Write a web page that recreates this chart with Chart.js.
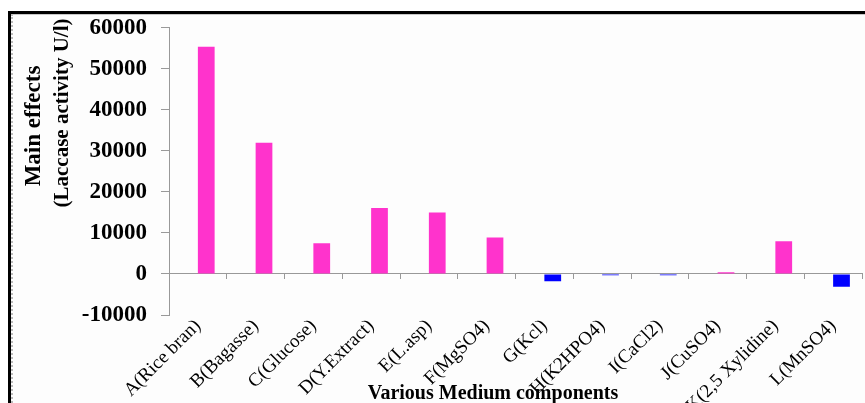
<!DOCTYPE html>
<html>
<head>
<meta charset="utf-8">
<script src="https://cdn.jsdelivr.net/npm/chart.js@4"></script>
<style>
  html, body { margin: 0; padding: 0; background: #fff; }
  #wrap { position: relative; width: 865px; height: 403px; overflow: hidden; }
  #frame {
    position: absolute; left: 8px; top: 11px; width: 870px; height: 400px;
    border-top: 3px solid #000; border-left: 3px solid #000;
    background: #fdfdfd;
  }
  #inner {
    position: absolute; left: 11px; top: 14px; width: 870px; height: 400px;
    border-top: 1px solid #c8c8c8; border-left: 2px dotted #bbb;
  }
  #chart { position: absolute; left: 0; top: 0; }
</style>
</head>
<body>
<div id="wrap">
  <div id="frame"></div>
  <div id="inner"></div>
  <canvas id="chart" width="865" height="403"></canvas>
</div>
<script>
// 因子ごとの主効果（ラッカーゼ活性 U/l）
const components = ['A(Rice bran)', 'B(Bagasse)', 'C(Glucose)', 'D(Y.Extract)', 'E(L.asp)', 'F(MgSO4)',
    'G(Kcl)', 'H(K2HPO4)', 'I(CaCl2)', 'J(CuSO4)', 'K(2,5 Xylidine)', 'L(MnSO4)'];
const positiveEffects = [55400, 32000, 7500, 16100, 15000, 8900, null, null, null, 400, 8000, null];
const negativeEffects = [null, null, null, null, null, null, -1800, -300, -300, null, null, -3100];
const yTicks = [-10000, 0, 10000, 20000, 30000, 40000, 50000, 60000];

const yTitleLines = ['Main effects', '(Laccase activity U/l)'];
const xTitle = 'Various Medium components';

// 軸タイトルを好きな位置に描く
const titlePlugin = {
    id: 'titles',
    afterDraw(chart) {
        const ctx = chart.ctx;
        ctx.save();
        ctx.fillStyle = '#000';
        ctx.textAlign = 'center';
        ctx.textBaseline = 'middle';
        ctx.rotate(-Math.PI / 2);
        ctx.font = 'bold 23px "Liberation Serif"';
        ctx.fillText(yTitleLines[0], -126, 34);
        ctx.font = 'bold 21px "Liberation Serif"';
        ctx.fillText(yTitleLines[1], -113, 63);
        ctx.restore();

        ctx.save();
        ctx.fillStyle = '#000';
        ctx.font = 'bold 20px "Liberation Serif"';
        ctx.textAlign = 'center';
        ctx.textBaseline = 'alphabetic';
        ctx.fillText(xTitle, 493, 399);
        ctx.restore();
    }
};

new Chart(document.getElementById('chart'), {
    type: 'bar',
    data: {
        labels: components,
        datasets: [
            { data: components.map(() => null), stack: 'pad' },
            { data: positiveEffects, backgroundColor: '#ff33cc', stack: 'main' },
            { data: negativeEffects, backgroundColor: '#0000ff', stack: 'main' }
        ]
    },
    options: {
        responsive: false,
        animation: false,
        categoryPercentage: 0.58,
        barPercentage: 1.0,
        layout: { padding: { left: 0, right: 3, top: 26, bottom: 88 } },
        plugins: { legend: { display: false }, tooltip: { enabled: false } },
        scales: {
            x: {
                stacked: true,
                position: { y: 0 },
                afterFit(scale) { scale.paddingLeft = 0; scale.paddingRight = 0; },
                grid: { offset: true, drawOnChartArea: false, tickLength: 5, color: '#999' },
                border: { color: '#999', width: 1 },
                ticks: {
                    color: '#000',
                    font: { family: '"Liberation Serif"', size: 19 },
                    minRotation: 45, maxRotation: 45,
                    padding: 36,
                    autoSkip: false
                }
            },
            y: {
                stacked: true,
                min: -10000, max: 60000,
                afterBuildTicks(scale) { scale.ticks = yTicks.map(v => ({ value: v })); },
                afterFit(scale) { scale.width = 169; },
                grid: { drawOnChartArea: false, tickLength: 8, color: '#999' },
                border: { color: '#999', width: 1 },
                ticks: {
                    color: '#000',
                    font: { family: '"Liberation Serif"', size: 23, weight: 'bold' },
                    padding: 14,
                    callback: v => String(v)
                }
            }
        }
    },
    plugins: [titlePlugin]
});
</script>
</body>
</html>
